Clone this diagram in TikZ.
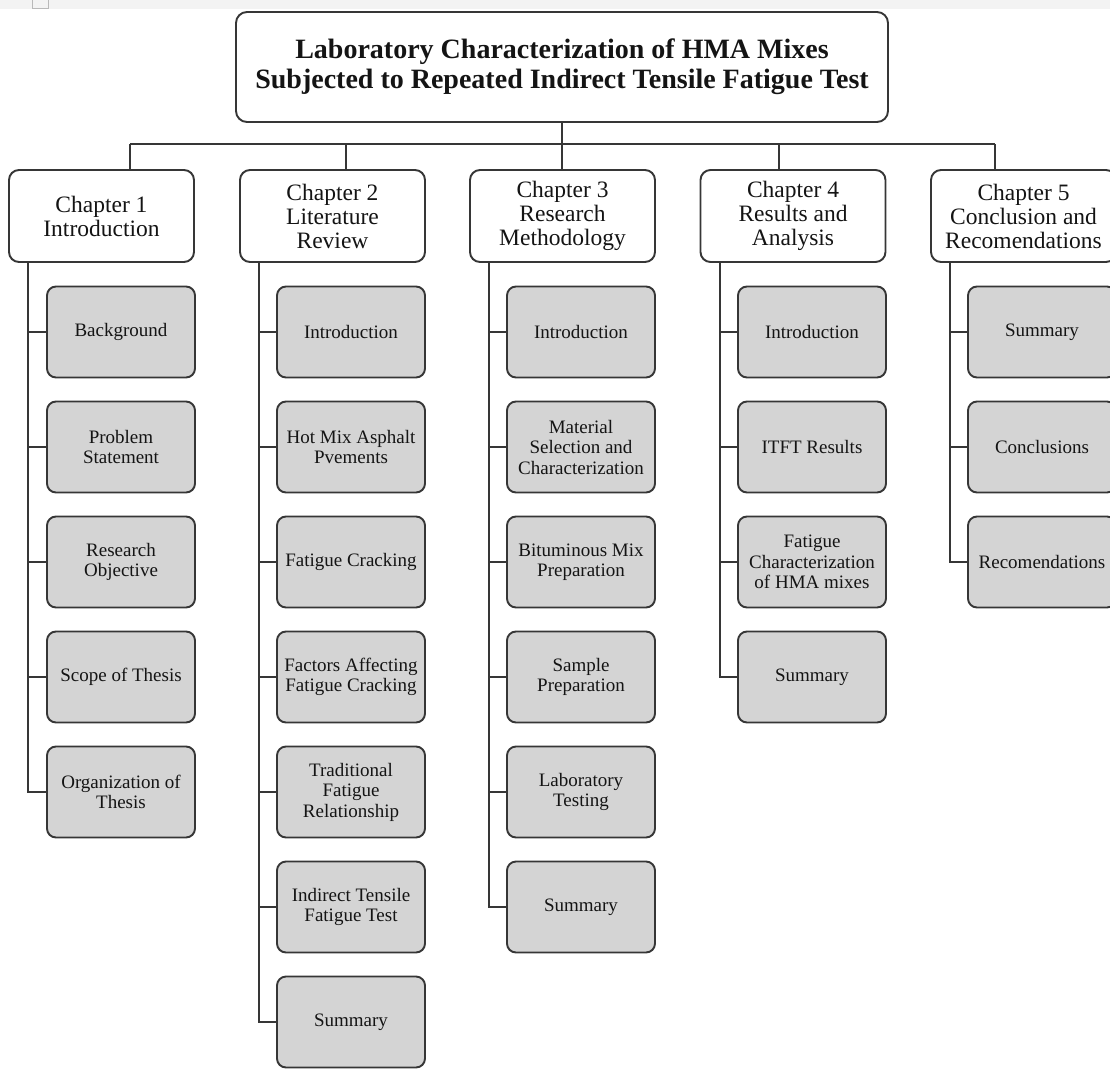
\documentclass[tikz,border=0pt]{standalone}
\usepackage{fontspec}
\setmainfont{Liberation Serif}
\definecolor{edge}{HTML}{363636}
\definecolor{boxfill}{HTML}{D4D4D4}
\definecolor{ink}{HTML}{141414}
\definecolor{strip}{HTML}{F3F3F3}
\tikzset{
  base/.style={draw=edge, line width=1.9pt, inner sep=0pt, align=center, text=ink},
  titlebox/.style={base, rounded corners=11pt, minimum width=652pt, minimum height=110pt,
    font=\fontsize{28}{30}\selectfont\bfseries},
  chapbox/.style={base, fill=white, rounded corners=10pt, minimum width=185pt, minimum height=92pt,
    font=\fontsize{23.5}{24}\selectfont},
  itembox/.style={base, fill=boxfill, rounded corners=9pt, minimum width=148pt, minimum height=91pt,
    font=\fontsize{19}{20.5}\selectfont},
  link/.style={draw=edge, line width=1.9pt}
}
\begin{document}
\begin{tikzpicture}[x=1pt, y=-1pt]
\useasboundingbox (0,0) rectangle (1110,1068);
% page header strip with its small marker
\fill[strip] (0,0) rectangle (1110,9);
\draw[gray!55, line width=1pt] (32,-2) rectangle (48,8);

% thesis title
\node[titlebox] (title) at (562,67) {Laboratory Characterization of HMA Mixes\\Subjected to Repeated Indirect Tensile Fatigue Test};

% chapters
\node[chapbox] (ch1) at (101.5,216) {Chapter 1\\Introduction};
\node[chapbox] (ch2) at (332.5,216) {Chapter 2\\Literature\\Review};
\node[chapbox] (ch3) at (562.5,216) {Chapter 3\\Research\\Methodology};
\node[chapbox] (ch4) at (793,216) {Chapter 4\\Results and\\Analysis};
\node[chapbox] (ch5) at (1023.5,216) {Chapter 5\\Conclusion and\\Recomendations};

% bus from title to chapters
\coordinate (d1) at (130,144);
\coordinate (d2) at (346,144);
\coordinate (d3) at (562,144);
\coordinate (d4) at (779,144);
\coordinate (d5) at (995,144);
\draw[link] (title.south) -- (d3);
\draw[link] (d1) -- (d5);
\foreach \k in {1,...,5} \draw[link] (d\k) -- (d\k |- ch\k.north);

% chapter 1 sections
\node[itembox] (c1-1) at (121,332) {Background};
\node[itembox] (c1-2) at (121,447) {Problem\\Statement};
\node[itembox] (c1-3) at (121,562) {Research\\Objective};
\node[itembox] (c1-4) at (121,677) {Scope of Thesis};
\node[itembox] (c1-5) at (121,792) {Organization of\\Thesis};

% chapter 2 sections
\node[itembox] (c2-1) at (351,332) {Introduction};
\node[itembox] (c2-2) at (351,447) {Hot Mix Asphalt\\Pvements};
\node[itembox] (c2-3) at (351,562) {Fatigue Cracking};
\node[itembox] (c2-4) at (351,677) {Factors Affecting\\Fatigue Cracking};
\node[itembox] (c2-5) at (351,792) {Traditional\\Fatigue\\Relationship};
\node[itembox] (c2-6) at (351,907) {Indirect Tensile\\Fatigue Test};
\node[itembox] (c2-7) at (351,1022) {Summary};

% chapter 3 sections
\node[itembox] (c3-1) at (581,332) {Introduction};
\node[itembox] (c3-2) at (581,447) {Material\\Selection and\\Characterization};
\node[itembox] (c3-3) at (581,562) {Bituminous Mix\\Preparation};
\node[itembox] (c3-4) at (581,677) {Sample\\Preparation};
\node[itembox] (c3-5) at (581,792) {Laboratory\\Testing};
\node[itembox] (c3-6) at (581,907) {Summary};

% chapter 4 sections
\node[itembox] (c4-1) at (812,332) {Introduction};
\node[itembox] (c4-2) at (812,447) {ITFT Results};
\node[itembox] (c4-3) at (812,562) {Fatigue\\Characterization\\of HMA mixes};
\node[itembox] (c4-4) at (812,677) {Summary};

% chapter 5 sections
\node[itembox] (c5-1) at (1042,332) {Summary};
\node[itembox] (c5-2) at (1042,447) {Conclusions};
\node[itembox] (c5-3) at (1042,562) {Recomendations};

% spines from each chapter down to its sections
\coordinate (s1) at (28,262);
\coordinate (s2) at (259,262);
\coordinate (s3) at (489,262);
\coordinate (s4) at (720,262);
\coordinate (s5) at (950,262);
\foreach \k in {1,...,5} \draw[link] (s1) |- (c1-\k.west);
\foreach \k in {1,...,7} \draw[link] (s2) |- (c2-\k.west);
\foreach \k in {1,...,6} \draw[link] (s3) |- (c3-\k.west);
\foreach \k in {1,...,4} \draw[link] (s4) |- (c4-\k.west);
\foreach \k in {1,...,3} \draw[link] (s5) |- (c5-\k.west);
\end{tikzpicture}
\end{document}
